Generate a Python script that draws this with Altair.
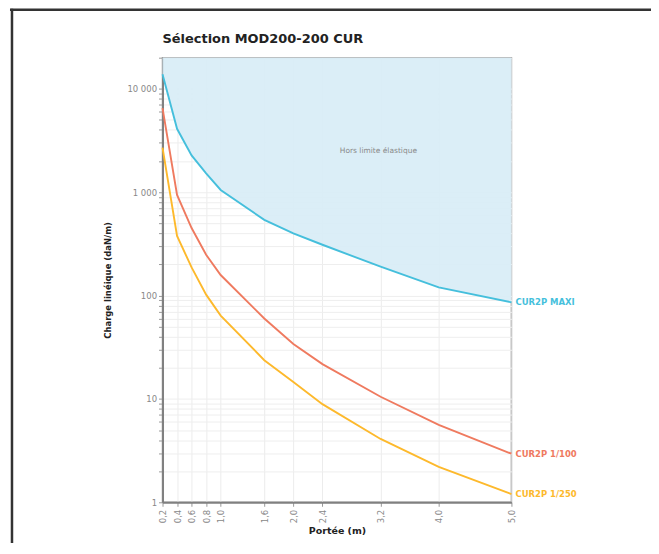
import altair as alt
import pandas as pd

portee = [0.2, 0.4, 0.6, 0.8, 1.0, 1.6, 2.0, 2.4, 3.2, 4.0, 5.0]
maxi = [13800, 4100, 2270, 1520, 1050, 540, 400, 310, 190, 120, 86]
p100 = [6500, 940, 450, 248, 158, 60, 34, 21.7, 10.5, 5.6, 2.95]
p250 = [2700, 378, 187, 102, 64, 23.7, 14.6, 8.9, 4.1, 2.2, 1.2]
series_names = ["CUR2P MAXI", "CUR2P 1/100", "CUR2P 1/250"]
series_colors = ["#45bfdc", "#ef7a5f", "#fdb92c"]
x_ticks = [0.2, 0.4, 0.6, 0.8, 1.0, 1.6, 2.0, 2.4, 3.2, 4.0, 5.0]
y_ticks = [m * 10 ** e for e in range(0, 5) for m in range(1, 10)] + [20000]
y_top = 20000
zone_label = "Hors limite élastique"
chart_title = "Sélection MOD200-200 CUR"

rows = []
for name, vals in zip(series_names, [maxi, p100, p250]):
    for xv, yv in zip(portee, vals):
        rows.append({"serie": name, "x": xv, "y": yv})
df = pd.DataFrame(rows)
df_maxi = pd.DataFrame({"x": portee, "y": maxi, "top": [y_top] * len(portee)})
df_end = df[df["x"] == portee[-1]]

FONT = "DejaVu Sans"
xscale = alt.Scale(domain=[0.2, 5.0], nice=False, zero=False)
yscale = alt.Scale(type="log", domain=[1, y_top], nice=False)
color = alt.Color("serie:N", scale=alt.Scale(domain=series_names, range=series_colors), legend=None)

xaxis = alt.Axis(
    values=x_ticks, title="Portée (m)", labelAngle=270, labelOverlap=False,
    labelExpr="replace(format(datum.value, '.1f'), '.', ',')",
    labelFont=FONT, labelFontSize=8.5, labelColor="#888888",
    titleFont=FONT, titleFontSize=9.5, titleFontWeight="bold", titleColor="#222222",
    gridColor="#ececec", gridWidth=1, tickColor="#999999", tickSize=4,
    domainColor="#808080", domainWidth=2, labelPadding=3, titlePadding=3,
)
yaxis = alt.Axis(
    values=y_ticks, title="Charge linéique (daN/m)", labelOverlap=False,
    labelExpr="indexof([1,10,100,1000,10000], datum.value) >= 0 ? replace(format(datum.value, ','), ',', ' ') : ''",
    labelFont=FONT, labelFontSize=8.5, labelColor="#888888",
    titleFont=FONT, titleFontSize=8.5, titleFontWeight="bold", titleColor="#222222",
    gridColor="#eeeeee", gridWidth=1, tickColor="#999999", tickSize=4,
    domainColor="#808080", domainWidth=2, labelPadding=2, titlePadding=14,
)
X = alt.X("x:Q", scale=xscale, axis=xaxis)
Y = alt.Y("y:Q", scale=yscale, axis=yaxis)

area = alt.Chart(df_maxi).mark_area(color="#d8edf6", opacity=0.92).encode(
    x=X, y=Y, y2="top:Q",
)
lines = alt.Chart(df).mark_line(strokeWidth=1.9).encode(
    x=X, y=Y, color=color, detail="serie:N",
)
ends = alt.Chart(df_end).mark_text(align="left", baseline="middle", dx=4, font=FONT,
                                   fontSize=8.5, fontWeight="bold").encode(
    x=X, y=Y, text="serie:N", color=color,
)
zone = alt.Chart(pd.DataFrame({"x": [3.17], "y": [2480], "t": [zone_label]})).mark_text(
    font=FONT, fontSize=7.5, color="#8a8a8a").encode(x=X, y=Y, text="t:N")

one = pd.DataFrame({"a": [0]})
title_mark = alt.Chart(pd.DataFrame({"t": [chart_title]})).mark_text(
    align="left", baseline="middle", font=FONT, fontSize=13, fontWeight="bold",
    color="#222222").encode(x=alt.value(0), y=alt.value(-19), text="t:N")
frame_top = alt.Chart(one).mark_rule(color="#333333", strokeWidth=2.5).encode(
    x=alt.value(-153), x2=alt.value(495), y=alt.value(-48))
frame_left = alt.Chart(one).mark_rule(color="#333333", strokeWidth=2.5).encode(
    x=alt.value(-151), y=alt.value(-49), y2=alt.value(495))

chart = alt.layer(area, lines, ends, zone, title_mark, frame_top, frame_left).properties(
    width=350, height=446,
    autosize=alt.AutoSizeParams(type="none"),
    padding={"left": 155, "top": 49, "right": 140, "bottom": 40},
).configure_view(stroke="#999999", strokeWidth=1.5).configure_axis(labelOverlap=False)

chart.save("out.html", embed_options={"renderer": "svg", "actions": False})
